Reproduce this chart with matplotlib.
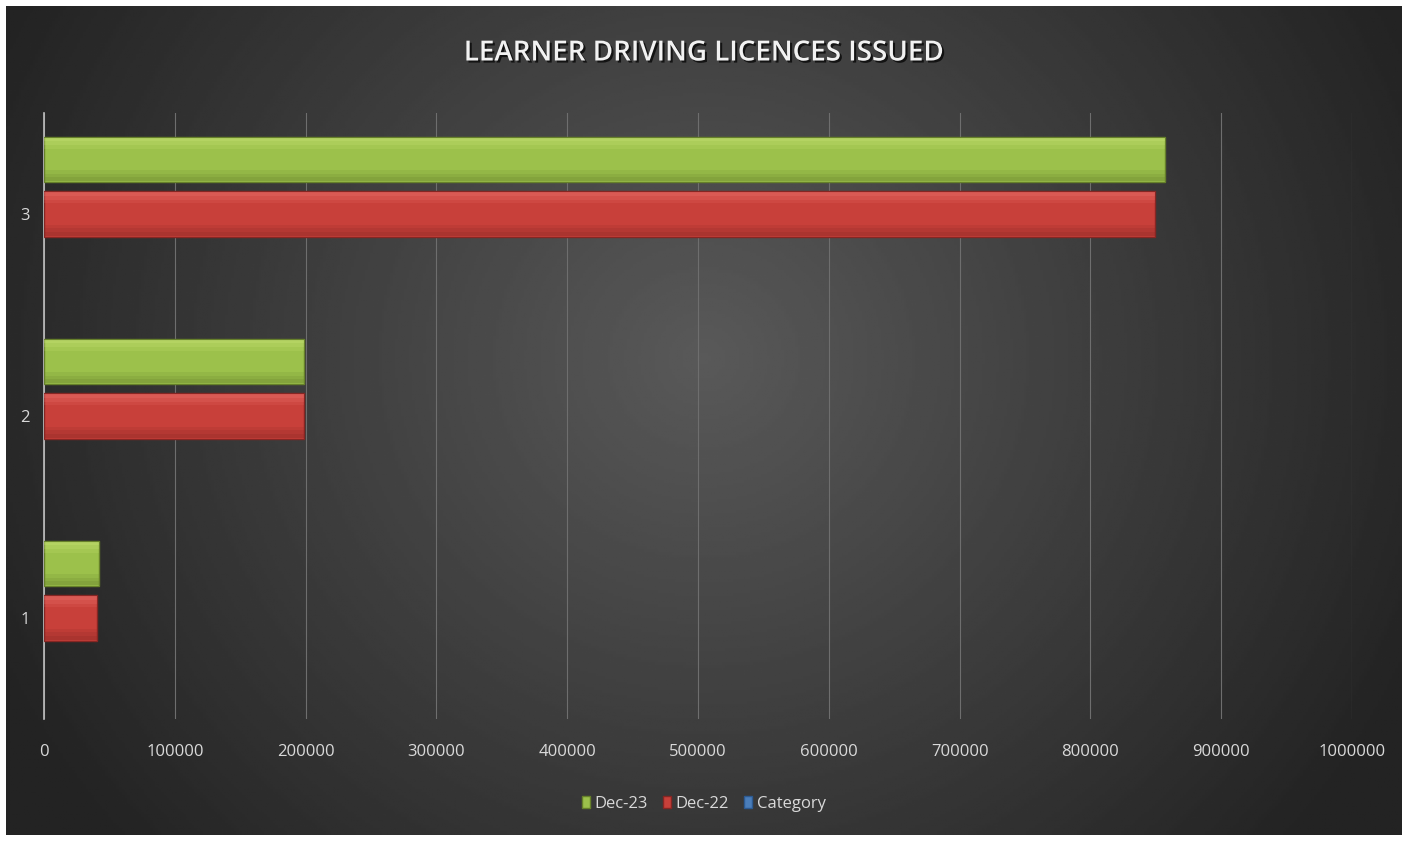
import numpy as np
import matplotlib
matplotlib.use("Agg")
import matplotlib.pyplot as plt
import matplotlib.patheffects as pe
from matplotlib.patches import Patch

# data
categories = [1, 2, 3]
dec23 = [42000, 199000, 857000]
dec22 = [40500, 199000, 849500]
category = [0, 0, 0]  # empty series, still takes a slot
xticks = [0, 100000, 200000, 300000, 400000, 500000, 600000, 700000, 800000, 900000, 1000000]

font = ["Open Sans", "DejaVu Sans"]
txt = "#d9d9d9"

fig = plt.figure(figsize=(14.08, 8.41), dpi=100, facecolor="white")

# dark radial background inside a thin white border
bg = fig.add_axes([6 / 1408, 6 / 841, 1396 / 1408, 829 / 841], zorder=-10)
yy, xx = np.mgrid[-1:1:300j, -1:1:500j]
r = np.sqrt((xx / 1.0) ** 2 + ((yy + 0.15) / 1.6) ** 2)
shade = np.clip(0.35 - 0.19 * r, 0.14, 0.36)
bg.imshow(shade, cmap="gray", vmin=0, vmax=1, aspect="auto", extent=[0, 1, 0, 1])
bg.set_axis_off()

ax = fig.add_axes([44 / 1408, 1 - 719 / 841, 1308 / 1408, 606 / 841])
ax.patch.set_alpha(0)

y = np.array(categories, dtype=float)
h = 0.223
off = 0.27

series = [
    (dec23, y + off, "#9cc14b", "#d2ea80", "#66802a"),
    (dec22, y, "#c8403a", "#f27a74", "#862623"),
]
for vals, pos, mid, light, dark in series:
    ax.barh(pos, vals, height=h, color=mid, edgecolor=dark, linewidth=1.0, zorder=3)
    # soft bevel: a few thin translucent strips top and bottom
    for k, a in enumerate([0.45, 0.3, 0.15]):
        ax.barh(pos + h * (0.44 - 0.08 * k), vals, height=h * 0.08, color=light,
                alpha=a, linewidth=0, zorder=4)
        ax.barh(pos - h * (0.44 - 0.08 * k), vals, height=h * 0.08, color=dark,
                alpha=a, linewidth=0, zorder=4)
ax.barh(y - off, category, height=h, color="#4a7ebb", zorder=3)

ax.set_xlim(0, 1000000)
ax.set_ylim(0.5, 3.5)
ax.set_xticks(xticks)
ax.set_xticklabels([str(t) for t in xticks])
ax.set_yticks(categories)
ax.grid(axis="x", color="#6e6e6e", linewidth=0.8, zorder=0)
for s in ["top", "right", "bottom"]:
    ax.spines[s].set_visible(False)
ax.spines["left"].set_color("#bfbfbf")
ax.spines["left"].set_linewidth(1.2)
ax.tick_params(axis="both", length=0, colors=txt, labelsize=12)
ax.tick_params(axis="x", pad=18)
ax.tick_params(axis="y", pad=10)
for lab in ax.get_xticklabels() + ax.get_yticklabels():
    lab.set_family(font)

fig.text(0.5, 1 - 53 / 841, "LEARNER DRIVING LICENCES ISSUED", ha="center", va="center",
         color="#f2f2f2", fontsize=20, fontweight="semibold", family=font,
         path_effects=[pe.withSimplePatchShadow(offset=(1.5, -1.5), shadow_rgbFace="black", alpha=0.7)])

handles = [Patch(facecolor="#9cc14b", edgecolor="#66802a"),
           Patch(facecolor="#c8403a", edgecolor="#862623"),
           Patch(facecolor="#4a7ebb", edgecolor="#2c5a92")]
leg = fig.legend(handles, ["Dec-23", "Dec-22", "Category"], loc="center",
                 bbox_to_anchor=(0.5, 1 - 804 / 841), ncol=3, frameon=False,
                 handlelength=0.45, handleheight=0.7, handletextpad=0.3, columnspacing=0.9,
                 prop={"family": font, "size": 12})
for t in leg.get_texts():
    t.set_color(txt)

fig.savefig("out.png", dpi=100, facecolor="white")
